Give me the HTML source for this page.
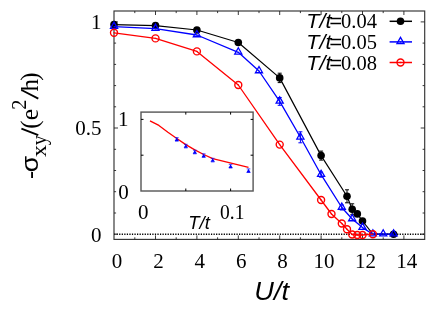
<!DOCTYPE html>
<html><head><meta charset="utf-8"><title>chart</title>
<style>html,body{margin:0;padding:0;background:#fff}svg{display:block;will-change:transform}text{font-family:"Liberation Serif",serif;fill:#000}.s{font-family:"Liberation Sans",sans-serif}.it{font-style:italic}.i{font-family:"Liberation Sans",sans-serif;font-style:italic}</style></head><body>
<svg width="436" height="313" viewBox="0 0 436 313">
<rect width="436" height="313" fill="#fff"/>
<line x1="114.05" y1="234.2" x2="424.7" y2="234.2" stroke="#000" stroke-width="1.4" stroke-dasharray="1.25 1.3"/>
<rect x="114.0" y="11.0" width="310.7" height="228.4" fill="none" stroke="#333" stroke-width="1.15"/>
<path d="M134.8 239.4v-2.1M134.8 11.0v2.1M155.5 239.4v-4.0M155.5 11.0v4.0M176.2 239.4v-2.1M176.2 11.0v2.1M196.9 239.4v-4.0M196.9 11.0v4.0M217.6 239.4v-2.1M217.6 11.0v2.1M238.3 239.4v-4.0M238.3 11.0v4.0M259.0 239.4v-2.1M259.0 11.0v2.1M279.7 239.4v-4.0M279.7 11.0v4.0M300.4 239.4v-2.1M300.4 11.0v2.1M321.1 239.4v-4.0M321.1 11.0v4.0M341.8 239.4v-2.1M341.8 11.0v2.1M362.5 239.4v-4.0M362.5 11.0v4.0M383.2 239.4v-2.1M383.2 11.0v2.1M403.9 239.4v-4.0M403.9 11.0v4.0M114.0 234.2h4.0M424.7 234.2h-4.0M114.0 213.0h2.1M424.7 213.0h-2.1M114.0 191.7h2.1M424.7 191.7h-2.1M114.0 170.5h2.1M424.7 170.5h-2.1M114.0 149.3h2.1M424.7 149.3h-2.1M114.0 128.0h4.0M424.7 128.0h-4.0M114.0 106.8h2.1M424.7 106.8h-2.1M114.0 85.6h2.1M424.7 85.6h-2.1M114.0 64.4h2.1M424.7 64.4h-2.1M114.0 43.1h2.1M424.7 43.1h-2.1M114.0 21.9h4.0M424.7 21.9h-4.0" stroke="#222" stroke-width="0.9" fill="none"/>
<text x="117.0" y="267.6" font-size="21" text-anchor="middle">0</text>
<text x="158.4" y="267.6" font-size="21" text-anchor="middle">2</text>
<text x="199.8" y="267.6" font-size="21" text-anchor="middle">4</text>
<text x="241.2" y="267.6" font-size="21" text-anchor="middle">6</text>
<text x="282.6" y="267.6" font-size="21" text-anchor="middle">8</text>
<text x="324.0" y="267.6" font-size="21" text-anchor="middle">10</text>
<text x="365.4" y="267.6" font-size="21" text-anchor="middle">12</text>
<text x="406.8" y="267.6" font-size="21" text-anchor="middle">14</text>
<text x="101.4" y="29.2" font-size="21" text-anchor="end">1</text>
<text x="101.4" y="135.3" font-size="21" text-anchor="end">0.5</text>
<text x="101.4" y="241.5" font-size="21" text-anchor="end">0</text>
<text class="i" transform="translate(254.3,299.9) scale(1.045,1)" font-size="26">U/t</text>
<path d="M21.4 128.6L38.3 135.1M21.5 90.0L38.3 98.6" stroke="#000" stroke-width="1.8" fill="none"/>
<text class="s" transform="translate(38,178.9) rotate(-90)" font-size="24">-</text>
<text class="s" transform="translate(38.4,172.2) rotate(-90) scale(1.07,0.94)" font-size="25">σ</text>
<text transform="translate(45.8,157.0) rotate(-90) scale(1.2,1)" font-size="20">x</text>
<text transform="translate(45.8,145.2) rotate(-90)" font-size="20">y</text>
<text transform="translate(38,128.7) rotate(-90)" font-size="25">(</text>
<text transform="translate(38,120.2) rotate(-90)" font-size="25.5">e</text>
<text transform="translate(25.8,109.7) rotate(-90)" font-size="20.5">2</text>
<text transform="translate(38,91.5) rotate(-90)" font-size="25">h</text>
<text transform="translate(38,80.8) rotate(-90)" font-size="25">)</text>
<rect x="141.0" y="112.1" width="112.1" height="78.9" fill="#fff" stroke="#555" stroke-width="1.4"/>
<path d="M185.8 191.0v-2.5M185.8 112.1v2.5M230.6 191.0v-2.5M230.6 112.1v2.5M141.0 155.2h2.5M253.1 155.2h-2.5M141.0 119.4h2.5M253.1 119.4h-2.5" stroke="#000" stroke-width="1" fill="none"/>
<polyline points="150.0,120.8 158.9,125.4 167.9,132.2 176.8,138.5 185.8,144.6 194.8,149.9 203.7,154.5 212.7,158.6 248.5,167.4" fill="none" stroke="#f00" stroke-width="1.3" stroke-linejoin="round"/>
<path d="M176.8 137.5L178.9 141.1H174.7Z" fill="#00f"/><path d="M175.0 137.6h3.6M175.0 141.2h3.6" stroke="#00f" stroke-width="0.7"/>
<path d="M185.8 144.2L187.9 147.8H183.7Z" fill="#00f"/><path d="M184.0 144.3h3.6M184.0 147.9h3.6" stroke="#00f" stroke-width="0.7"/>
<path d="M194.8 150.1L196.9 153.7H192.7Z" fill="#00f"/><path d="M193.0 150.2h3.6M193.0 153.8h3.6" stroke="#00f" stroke-width="0.7"/>
<path d="M203.7 153.7L205.8 157.3H201.6Z" fill="#00f"/><path d="M201.9 153.8h3.6M201.9 157.4h3.6" stroke="#00f" stroke-width="0.7"/>
<path d="M212.7 158.2L214.8 161.8H210.6Z" fill="#00f"/><path d="M210.9 158.3h3.6M210.9 161.9h3.6" stroke="#00f" stroke-width="0.7"/>
<path d="M230.6 164.3L232.7 167.9H228.5Z" fill="#00f"/><path d="M228.8 164.4h3.6M228.8 168.0h3.6" stroke="#00f" stroke-width="0.7"/>
<path d="M248.5 168.8L250.6 172.4H246.4Z" fill="#00f"/><path d="M246.7 168.9h3.6M246.7 172.5h3.6" stroke="#00f" stroke-width="0.7"/>
<text x="123.2" y="125.6" font-size="21" text-anchor="middle">1</text>
<text x="123.5" y="198.5" font-size="21" text-anchor="middle">0</text>
<text x="143.3" y="218.8" font-size="21" text-anchor="middle">0</text>
<text transform="translate(232.2,218.6) scale(0.93,1)" font-size="21" text-anchor="middle">0.1</text>
<text class="i" x="188.2" y="228.9" font-size="18.5">T/t</text>
<polyline points="114.0,24.6 155.5,25.6 196.9,30.0 238.3,42.5 279.7,77.9 321.1,155.6 347.0,196.3 352.2,209.3 357.3,213.9 362.5,221.0 372.9,234.2 393.6,234.2" fill="none" stroke="#000" stroke-width="1.2" stroke-linejoin="round"/>
<path d="M279.7 73.2V82.6M277.7 73.2h4.0M277.7 82.6h4.0" stroke="#000" stroke-width="1" fill="none"/>
<path d="M321.1 151.1V160.1M319.1 151.1h4.0M319.1 160.1h4.0" stroke="#000" stroke-width="1" fill="none"/>
<path d="M347.0 189.8V202.8M345.0 189.8h4.0M345.0 202.8h4.0" stroke="#000" stroke-width="1" fill="none"/>
<path d="M352.2 203.8V214.8M350.2 203.8h4.0M350.2 214.8h4.0" stroke="#000" stroke-width="1" fill="none"/>
<circle cx="114.0" cy="24.6" r="3.8" fill="#000"/>
<circle cx="155.5" cy="25.6" r="3.8" fill="#000"/>
<circle cx="196.9" cy="30.0" r="3.8" fill="#000"/>
<circle cx="238.3" cy="42.5" r="3.8" fill="#000"/>
<circle cx="279.7" cy="77.9" r="3.8" fill="#000"/>
<circle cx="321.1" cy="155.6" r="3.8" fill="#000"/>
<circle cx="347.0" cy="196.3" r="3.8" fill="#000"/>
<circle cx="352.2" cy="209.3" r="3.8" fill="#000"/>
<circle cx="357.3" cy="213.9" r="3.8" fill="#000"/>
<circle cx="362.5" cy="221.0" r="3.8" fill="#000"/>
<circle cx="393.6" cy="234.2" r="3.8" fill="#000"/>
<polyline points="114.0,26.6 155.5,28.6 196.9,35.0 238.3,52.3 259.0,71.0 279.7,101.4 300.4,137.3 321.1,174.7 341.8,207.5 352.2,219.0 362.5,227.6 372.9,234.2 383.2,234.2 393.6,234.2" fill="none" stroke="#00f" stroke-width="1.3" stroke-linejoin="round"/>
<path d="M279.7 97.5V105.3M277.7 97.5h4.0M277.7 105.3h4.0" stroke="#00f" stroke-width="1" fill="none"/>
<path d="M300.4 131.8V142.8M298.4 131.8h4.0M298.4 142.8h4.0" stroke="#00f" stroke-width="1" fill="none"/>
<path d="M321.1 172.2V177.2M319.1 172.2h4.0M319.1 177.2h4.0" stroke="#00f" stroke-width="1" fill="none"/>
<path d="M341.8 205.0V210.0M339.8 205.0h4.0M339.8 210.0h4.0" stroke="#00f" stroke-width="1" fill="none"/>
<path d="M114.0 22.10L117.60 28.35H110.50Z" fill="none" stroke="#00f" stroke-width="1.3" stroke-linejoin="miter"/><circle cx="114.0" cy="26.6" r="0.6" fill="#00f"/>
<path d="M155.5 24.10L159.01 30.35H151.91Z" fill="none" stroke="#00f" stroke-width="1.3" stroke-linejoin="miter"/><circle cx="155.5" cy="28.6" r="0.6" fill="#00f"/>
<path d="M196.9 30.50L200.42 36.75H193.32Z" fill="none" stroke="#00f" stroke-width="1.3" stroke-linejoin="miter"/><circle cx="196.9" cy="35.0" r="0.6" fill="#00f"/>
<path d="M238.3 47.80L241.83 54.05H234.73Z" fill="none" stroke="#00f" stroke-width="1.3" stroke-linejoin="miter"/><circle cx="238.3" cy="52.3" r="0.6" fill="#00f"/>
<path d="M259.0 66.50L262.54 72.75H255.44Z" fill="none" stroke="#00f" stroke-width="1.3" stroke-linejoin="miter"/><circle cx="259.0" cy="71.0" r="0.6" fill="#00f"/>
<path d="M279.7 96.90L283.24 103.15H276.14Z" fill="none" stroke="#00f" stroke-width="1.3" stroke-linejoin="miter"/><circle cx="279.7" cy="101.4" r="0.6" fill="#00f"/>
<path d="M300.4 132.80L303.94 139.05H296.84Z" fill="none" stroke="#00f" stroke-width="1.3" stroke-linejoin="miter"/><circle cx="300.4" cy="137.3" r="0.6" fill="#00f"/>
<path d="M321.1 170.20L324.65 176.45H317.55Z" fill="none" stroke="#00f" stroke-width="1.3" stroke-linejoin="miter"/><circle cx="321.1" cy="174.7" r="0.6" fill="#00f"/>
<path d="M341.8 203.00L345.36 209.25H338.25Z" fill="none" stroke="#00f" stroke-width="1.3" stroke-linejoin="miter"/><circle cx="341.8" cy="207.5" r="0.6" fill="#00f"/>
<path d="M352.2 214.50L355.71 220.75H348.61Z" fill="none" stroke="#00f" stroke-width="1.3" stroke-linejoin="miter"/><circle cx="352.2" cy="219.0" r="0.6" fill="#00f"/>
<path d="M362.5 223.10L366.06 229.35H358.96Z" fill="none" stroke="#00f" stroke-width="1.3" stroke-linejoin="miter"/><circle cx="362.5" cy="227.6" r="0.6" fill="#00f"/>
<path d="M372.9 229.70L376.41 235.95H369.31Z" fill="none" stroke="#00f" stroke-width="1.3" stroke-linejoin="miter"/><circle cx="372.9" cy="234.2" r="0.6" fill="#00f"/>
<path d="M383.2 229.70L386.76 235.95H379.66Z" fill="none" stroke="#00f" stroke-width="1.3" stroke-linejoin="miter"/><circle cx="383.2" cy="234.2" r="0.6" fill="#00f"/>
<path d="M393.6 229.70L397.12 235.95H390.02Z" fill="none" stroke="#00f" stroke-width="1.3" stroke-linejoin="miter"/><circle cx="393.6" cy="234.2" r="0.6" fill="#00f"/>
<polyline points="114.0,32.8 155.5,38.4 196.9,51.4 238.3,85.0 279.7,144.6 321.1,200.0 331.5,214.0 341.8,223.5 347.0,229.2 352.2,234.5 357.3,235.0 362.5,235.0 372.9,234.2" fill="none" stroke="#f00" stroke-width="1.3" stroke-linejoin="round"/>
<circle cx="114.0" cy="32.8" r="3.5" fill="none" stroke="#f00" stroke-width="1.4"/><circle cx="114.0" cy="32.8" r="0.7" fill="#f00"/>
<circle cx="155.5" cy="38.4" r="3.5" fill="none" stroke="#f00" stroke-width="1.4"/><circle cx="155.5" cy="38.4" r="0.7" fill="#f00"/>
<circle cx="196.9" cy="51.4" r="3.5" fill="none" stroke="#f00" stroke-width="1.4"/><circle cx="196.9" cy="51.4" r="0.7" fill="#f00"/>
<circle cx="238.3" cy="85.0" r="3.5" fill="none" stroke="#f00" stroke-width="1.4"/><circle cx="238.3" cy="85.0" r="0.7" fill="#f00"/>
<circle cx="279.7" cy="144.6" r="3.5" fill="none" stroke="#f00" stroke-width="1.4"/><circle cx="279.7" cy="144.6" r="0.7" fill="#f00"/>
<circle cx="321.1" cy="200.0" r="3.5" fill="none" stroke="#f00" stroke-width="1.4"/><circle cx="321.1" cy="200.0" r="0.7" fill="#f00"/>
<circle cx="331.5" cy="214.0" r="3.5" fill="none" stroke="#f00" stroke-width="1.4"/><circle cx="331.5" cy="214.0" r="0.7" fill="#f00"/>
<circle cx="341.8" cy="223.5" r="3.5" fill="none" stroke="#f00" stroke-width="1.4"/><circle cx="341.8" cy="223.5" r="0.7" fill="#f00"/>
<circle cx="347.0" cy="229.2" r="3.5" fill="none" stroke="#f00" stroke-width="1.4"/><circle cx="347.0" cy="229.2" r="0.7" fill="#f00"/>
<circle cx="352.2" cy="234.5" r="3.5" fill="none" stroke="#f00" stroke-width="1.4"/><circle cx="352.2" cy="234.5" r="0.7" fill="#f00"/>
<circle cx="357.3" cy="235.0" r="3.5" fill="none" stroke="#f00" stroke-width="1.4"/><circle cx="357.3" cy="235.0" r="0.7" fill="#f00"/>
<circle cx="362.5" cy="235.0" r="3.5" fill="none" stroke="#f00" stroke-width="1.4"/><circle cx="362.5" cy="235.0" r="0.7" fill="#f00"/>
<circle cx="372.9" cy="234.2" r="3.5" fill="none" stroke="#f00" stroke-width="1.4"/><circle cx="372.9" cy="234.2" r="0.7" fill="#f00"/>
<text class="i" transform="translate(306.2,28.3) scale(1.08,1)" font-size="20">T/t</text><text class="i" transform="translate(329.0,28.3) scale(1.1,1)" font-size="20">=</text><text x="341.0" y="28.3" font-size="20.5">0.04</text>
<line x1="389.6" y1="21.3" x2="412" y2="21.3" stroke="#000" stroke-width="1.5"/>
<circle cx="400.5" cy="21.3" r="3.8" fill="#000"/>
<text class="i" transform="translate(306.2,48.9) scale(1.08,1)" font-size="20">T/t</text><text class="i" transform="translate(329.0,48.9) scale(1.1,1)" font-size="20">=</text><text x="341.0" y="48.9" font-size="20.5">0.05</text>
<line x1="389.6" y1="41.9" x2="412" y2="41.9" stroke="#00f" stroke-width="1.5"/>
<path d="M400.5 37.40L404.05 43.65H396.95Z" fill="none" stroke="#00f" stroke-width="1.3" stroke-linejoin="miter"/><circle cx="400.5" cy="41.9" r="0.6" fill="#00f"/>
<text class="i" transform="translate(306.2,69.5) scale(1.08,1)" font-size="20">T/t</text><text class="i" transform="translate(329.0,69.5) scale(1.1,1)" font-size="20">=</text><text x="341.0" y="69.5" font-size="20.5">0.08</text>
<line x1="389.6" y1="62.5" x2="412" y2="62.5" stroke="#f00" stroke-width="1.5"/>
<circle cx="400.5" cy="62.5" r="3.5" fill="none" stroke="#f00" stroke-width="1.4"/><circle cx="400.5" cy="62.5" r="0.7" fill="#f00"/>
</svg></body></html>
